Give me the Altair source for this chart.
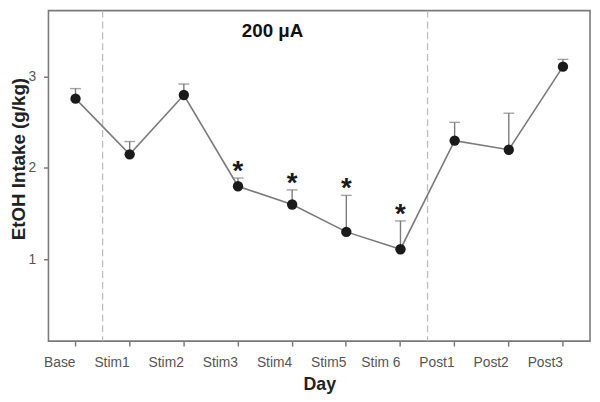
import altair as alt
import pandas as pd

days = ["Base", "Stim1", "Stim2", "Stim3", "Stim4", "Stim5", "Stim 6", "Post1", "Post2", "Post3"]
means = [2.76, 2.15, 2.80, 1.80, 1.60, 1.30, 1.11, 2.30, 2.20, 3.11]
err_top = [2.87, 2.29, 2.92, 1.89, 1.76, 1.70, 1.42, 2.50, 2.60, 3.19]
significant = [False, False, False, True, True, True, True, False, False, False]
phase_breaks = ["Stim1", "Post1"]
y_ticks = [1, 2, 3]

df = pd.DataFrame({"day": days, "mean": means, "top": err_top, "sig": significant})
df_star = df[df["sig"]]
df_break = pd.DataFrame({"day": phase_breaks})

FONT = "Liberation Sans"
GRAY = "#7a7a7a"

xscale = alt.Scale(type="band", domain=days, paddingInner=0, paddingOuter=0)
yscale = alt.Scale(domain=[0.103, 3.724], nice=False, zero=False)

x_enc = alt.X("day:N", scale=xscale, sort=days,
              axis=alt.Axis(title="Day", labelAngle=0, labelFontSize=14, labelColor="#555555",
                            labelFont=FONT, tickSize=5, tickColor=GRAY, tickWidth=1.5,
                            domain=False, labelPadding=17, titleFont=FONT, titleFontSize=18,
                            titleFontWeight="bold", titleColor="#222222", titlePadding=6))
y_enc = alt.Y("mean:Q", scale=yscale,
              axis=alt.Axis(title="EtOH Intake (g/kg)", values=y_ticks, format="d",
                            labelFontSize=14, labelColor="#555555", labelFont=FONT, tickSize=5,
                            tickColor=GRAY, tickWidth=1.5, domain=False, grid=False,
                            labelPadding=8, titleFont=FONT, titleFontSize=19,
                            titleFontWeight="bold", titleColor="#222222", titleX=-30,
                            titleY=150, titleBaseline="middle"))

base = alt.Chart(df)

breaks = alt.Chart(df_break).mark_rule(color="#bdbdbd", strokeDash=[7, 4], strokeWidth=1.3).encode(
    x=alt.X("day:N", scale=xscale, sort=days, bandPosition=0)
)

err = base.mark_rule(color=GRAY, strokeWidth=1.4).encode(
    x=x_enc, y=y_enc, y2="top:Q"
)
caps = base.mark_tick(color=GRAY, size=11, thickness=1.4, orient="horizontal").encode(
    x=x_enc, y=alt.Y("top:Q", scale=yscale)
)
line = base.mark_line(color=GRAY, strokeWidth=1.6).encode(x=x_enc, y=y_enc)
pts = base.mark_point(filled=True, color="#1a1a1a", size=110, opacity=1).encode(x=x_enc, y=y_enc)
stars = alt.Chart(df_star).mark_text(text="*", fontSize=28, fontWeight="bold", font=FONT,
                                     color="#1a1a1a", dy=-6, baseline="middle").encode(
    x=alt.X("day:N", scale=xscale, sort=days), y=alt.Y("top:Q", scale=yscale)
)
label = alt.Chart(pd.DataFrame({"day": ["Stim3"], "v": [3.50], "t": ["200 \u03bcA"]})).mark_text(
    fontSize=19, fontWeight="bold", font=FONT, color="#111111", dx=35
).encode(x=alt.X("day:N", scale=xscale, sort=days), y=alt.Y("v:Q", scale=yscale), text="t:N")

chart = alt.layer(breaks, err, caps, line, pts, stars, label).properties(
    width=549, height=335,
    autosize=alt.AutoSizeParams(type="none"),
    padding={"left": 41, "top": 0, "right": 2, "bottom": 58},
    background="white",
).configure_view(stroke=GRAY, strokeWidth=1.6)

chart.save("out.html", embed_options={"renderer": "svg", "actions": False})
